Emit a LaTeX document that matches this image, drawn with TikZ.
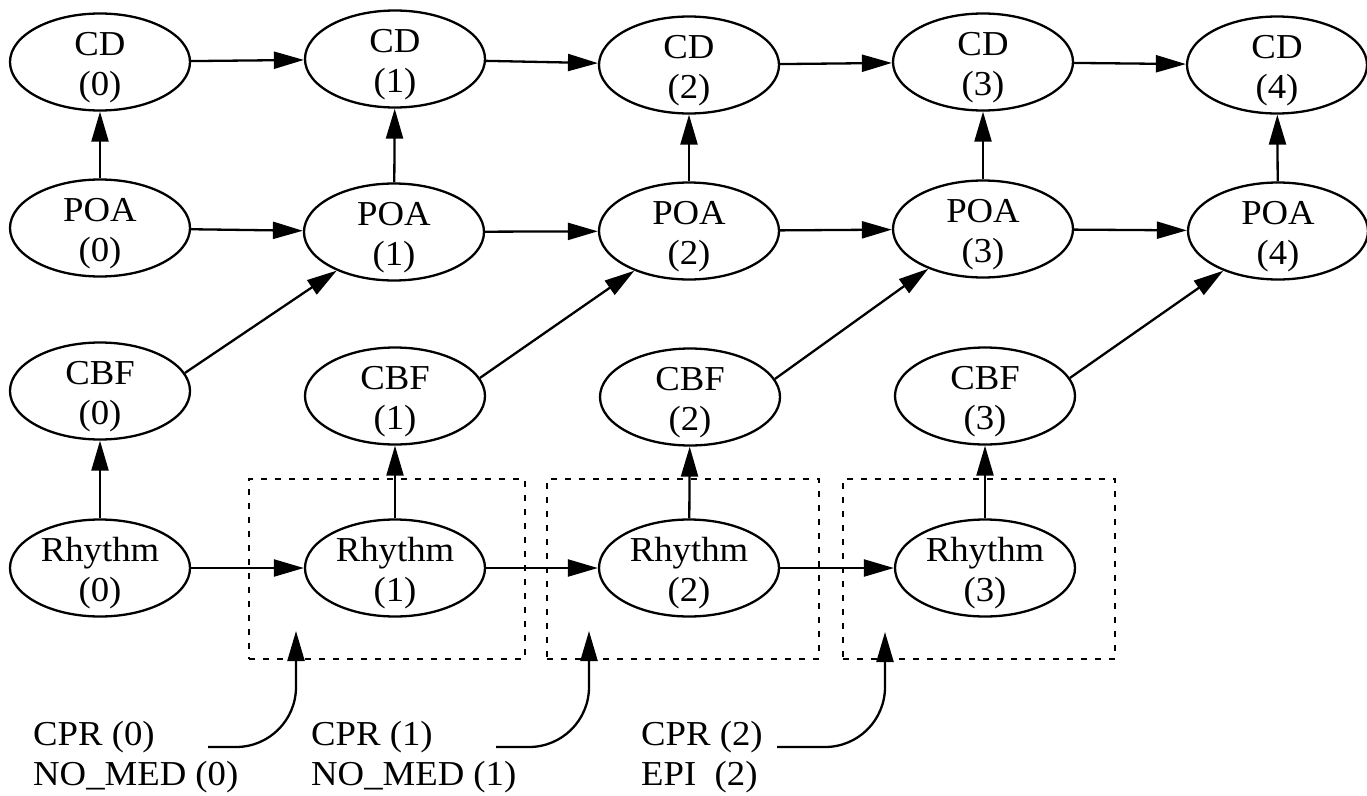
\documentclass[tikz,border=0pt]{standalone}
\usepackage{fontspec}
\setmainfont{Liberation Serif}[FakeStretch=1.05]
\usetikzlibrary{arrows.meta,shapes.geometric}
\newcommand{\twoline}[3][c]{\smash{\begin{tabular}[t]{@{}#1@{}}#2\\#3\end{tabular}}}
\begin{document}
\begin{tikzpicture}[x=1pt,y=-1pt,
  ell/.style={draw, line width=2.3pt, ellipse, minimum width=180pt, minimum height=97pt,
    inner sep=0pt, text depth=14pt, font=\fontsize{35}{40}\selectfont},
  lbl/.style={inner sep=0pt, anchor=west, font=\fontsize{35}{40}\selectfont},
  arr/.style={-{Triangle[length=30pt,width=17pt]}, line width=2.3pt},
  dbox/.style={draw, line width=2.3pt, dash pattern=on 6pt off 8pt, inner sep=0pt,
    minimum height=180pt}]
\useasboundingbox (0,0) rectangle (1367,795);

% dashed boxes
\node[dbox, minimum width=276pt] (box1) at (387,569) {};
\node[dbox, minimum width=272pt] (box2) at (683,569) {};
\node[dbox, minimum width=272pt] (box3) at (979,569) {};

% CD row
\node[ell] (cd0) at (100,62) {\twoline{CD}{(0)}};
\node[ell] (cd1) at (395,59) {\twoline{CD}{(1)}};
\node[ell] (cd2) at (689,65) {\twoline{CD}{(2)}};
\node[ell] (cd3) at (983,62) {\twoline{CD}{(3)}};
\node[ell] (cd4) at (1277,65) {\twoline{CD}{(4)}};

% POA row
\node[ell] (poa0) at (100,228) {\twoline{POA}{(0)}};
\node[ell] (poa1) at (394,232) {\twoline{POA}{(1)}};
\node[ell] (poa2) at (689,231) {\twoline{POA}{(2)}};
\node[ell] (poa3) at (983,229) {\twoline{POA}{(3)}};
\node[ell] (poa4) at (1278,231) {\twoline{POA}{(4)}};

% CBF row
\node[ell] (cbf0) at (100,391) {\twoline{CBF}{(0)}};
\node[ell] (cbf1) at (395,396) {\twoline{CBF}{(1)}};
\node[ell] (cbf2) at (690,397) {\twoline{CBF}{(2)}};
\node[ell] (cbf3) at (985,396) {\twoline{CBF}{(3)}};

% Rhythm row
\node[ell] (rh0) at (100,568) {\twoline{Rhythm}{(0)}};
\node[ell] (rh1) at (395,568) {\twoline{Rhythm}{(1)}};
\node[ell] (rh2) at (689,568) {\twoline{Rhythm}{(2)}};
\node[ell] (rh3) at (985,568) {\twoline{Rhythm}{(3)}};

% horizontal edges
\draw[arr] (cd0) -- (cd1);
\draw[arr] (cd1) -- (cd2);
\draw[arr] (cd2) -- (cd3);
\draw[arr] (cd3) -- (cd4);
\draw[arr] (poa0) -- (poa1);
\draw[arr] (poa1) -- (poa2);
\draw[arr] (poa2) -- (poa3);
\draw[arr] (poa3) -- (poa4);
\draw[arr] (rh0) -- (rh1);
\draw[arr] (rh1) -- (rh2);
\draw[arr] (rh2) -- (rh3);

% vertical edges
\draw[arr] (poa0) -- (cd0);
\draw[arr] (poa1) -- (cd1);
\draw[arr] (poa2) -- (cd2);
\draw[arr] (poa3) -- (cd3);
\draw[arr] (poa4) -- (cd4);
\draw[arr] (rh0) -- (cbf0);
\draw[arr] (rh1) -- (cbf1);
\draw[arr] (rh2) -- (cbf2);
\draw[arr] (rh3) -- (cbf3);

% diagonal edges
\draw[arr] (cbf0.12) -- (poa1.214);
\draw[arr] (cbf1.12) -- (poa2.216);
\draw[arr] (cbf2.12) -- (poa3.216);
\draw[arr] (cbf3.12) -- (poa4.216);

% bottom labels
\node[lbl] (in0) at (33,745) {\twoline[l]{CPR (0)}{NO\_MED (0)}};
\node[lbl] (in1) at (311,745) {\twoline[l]{CPR (1)}{NO\_MED (1)}};
\node[lbl] (in2) at (641,745) {\twoline[l]{CPR (2)}{EPI\ \ (2)}};

\coordinate (s1) at (208,747);
\coordinate (t1) at (296,631);
\coordinate (s2) at (496,747);
\coordinate (t2) at (589,631);
\coordinate (s3) at (777,747);
\coordinate (t3) at (885,632);
\draw[arr, rounded corners=60pt] (s1) -| (t1);
\draw[arr, rounded corners=60pt] (s2) -| (t2);
\draw[arr, rounded corners=60pt] (s3) -| (t3);
\end{tikzpicture}
\end{document}
